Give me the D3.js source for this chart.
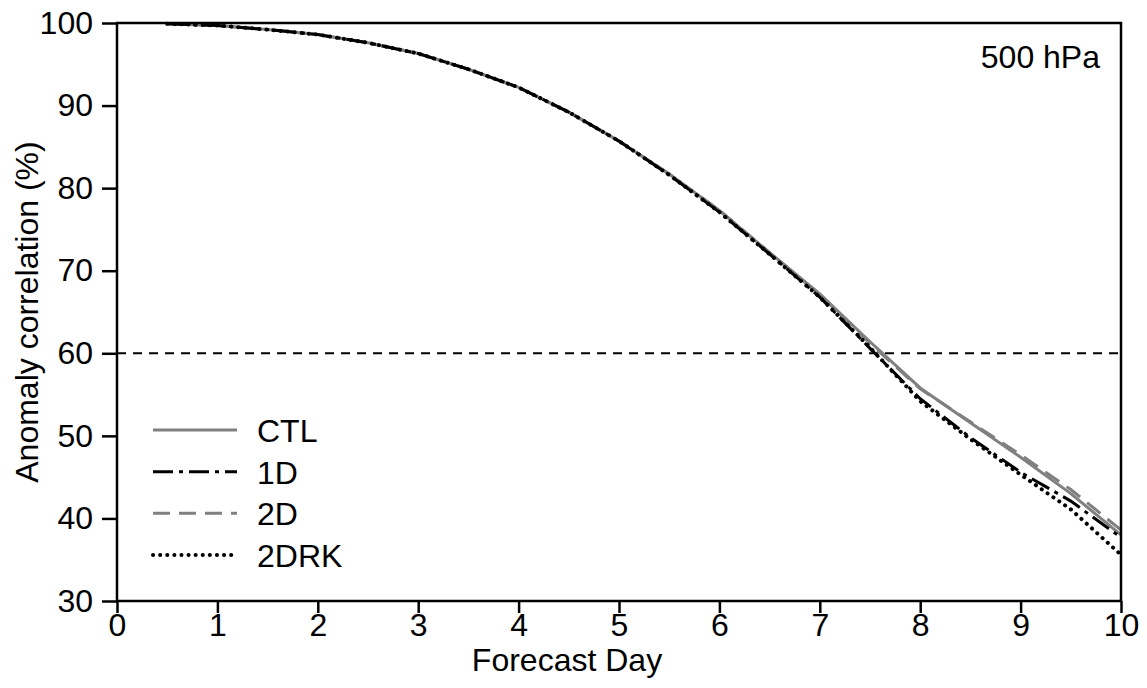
<!DOCTYPE html>
<html><head><meta charset="utf-8">
<script src="https://cdn.jsdelivr.net/npm/d3@7"></script>
<style>body{margin:0;background:#fff}svg text{font-family:"Liberation Sans",Arial,sans-serif;fill:#000}</style>
</head><body><svg id="c" width="1147" height="688"></svg>
<script>
const days = [0.5,1,1.5,2,2.5,3,3.5,4,4.5,5,5.5,6,6.5,7,7.5,8,8.5,9,9.5,10];
const ctl   = [99.9,99.7,99.2,98.6,97.6,96.3,94.4,92.2,89.2,85.7,81.7,77.3,72.2,67.2,61.4,55.8,51.6,47.4,43.0,38.0];
const d1    = [99.9,99.7,99.2,98.6,97.6,96.3,94.4,92.2,89.2,85.7,81.6,77.1,72.0,66.8,60.6,54.5,49.8,45.6,42.1,37.7];
const d2    = [99.9,99.7,99.2,98.6,97.6,96.3,94.4,92.2,89.2,85.7,81.7,77.3,72.2,67.1,61.2,55.7,51.7,47.7,43.5,38.6];
const d2rk  = [99.9,99.7,99.2,98.6,97.6,96.3,94.4,92.2,89.2,85.7,81.6,77.1,72.0,66.8,60.7,54.2,49.6,45.3,41.1,35.6];
const seriesNames = ["CTL","1D","2D","2DRK"];
const xTicks = [0,1,2,3,4,5,6,7,8,9,10];
const yTicks = [30,40,50,60,70,80,90,100];
const refLine = 60;

const styles = {
  "CTL":  {color:"#808080", dash:null, cap:"butt", w:3},
  "1D":   {color:"#000", dash:"20,6,4,6", cap:"butt", w:3},
  "2D":   {color:"#808080", dash:"17,9", cap:"butt", w:3},
  "2DRK": {color:"#000", dash:"0.1,7", cap:"round", w:4}
};
const data = {"CTL":ctl,"1D":d1,"2D":d2,"2DRK":d2rk};

const svg = d3.select("#c");
const L=117, R=1121, T=23, B=601;
const x = d3.scaleLinear().domain([0,10]).range([L,R]);
const y = d3.scaleLinear().domain([30,100]).range([B,T]);

svg.append("line").attr("x1",L).attr("x2",R).attr("y1",y(refLine)).attr("y2",y(refLine))
  .attr("stroke","#000").attr("stroke-width",2).attr("stroke-dasharray","9,7");

const line = d3.line().x((d,i)=>x(days[i])).y(d=>y(d));
["CTL","2D","1D","2DRK"].forEach(n=>{
  const s=styles[n];
  svg.append("path").datum(data[n]).attr("d",line).attr("fill","none")
    .attr("stroke",s.color).attr("stroke-width",s.w).attr("stroke-linecap",s.cap)
    .attr("stroke-dasharray",s.dash);
});

const fs = 32;
const xa = svg.append("g").attr("transform",`translate(0,${B})`)
  .call(d3.axisBottom(x).tickValues(xTicks).tickFormat(d3.format("d")).tickSize(12).tickPadding(0));
const ya = svg.append("g").attr("transform",`translate(${L},0)`)
  .call(d3.axisLeft(y).tickValues(yTicks).tickFormat(d3.format("d")).tickSize(15).tickPadding(9));
[xa,ya].forEach(g=>{
  g.select(".domain").remove();
  g.selectAll(".tick line").attr("stroke","#000").attr("stroke-width",2.5);
  g.selectAll(".tick text").attr("font-size",fs).style("font-family","Liberation Sans, Arial, sans-serif").attr("fill","#000");
});

svg.append("rect").attr("x",L).attr("y",T).attr("width",R-L).attr("height",B-T)
  .attr("fill","none").attr("stroke","#000").attr("stroke-width",2.5);

svg.append("text").attr("x",567).attr("y",671).attr("text-anchor","middle")
  .attr("font-size",fs).text("Forecast Day");
svg.append("text").attr("transform",`translate(38,${(T+B)/2}) rotate(-90)`).attr("text-anchor","middle")
  .attr("font-size",fs).text("Anomaly correlation (%)");
svg.append("text").attr("x",1100).attr("y",68).attr("text-anchor","end")
  .attr("font-size",fs).text("500 hPa");

const legY = d3.scalePoint().domain(seriesNames).range([430,555]);
seriesNames.forEach(n=>{
  const s=styles[n];
  svg.append("line").attr("x1",153).attr("x2",237).attr("y1",legY(n)).attr("y2",legY(n))
    .attr("stroke",s.color).attr("stroke-width",s.w).attr("stroke-linecap",s.cap).attr("stroke-dasharray",s.dash);
  svg.append("text").attr("x",257).attr("y",legY(n)+12).attr("font-size",fs).text(n);
});
</script></body></html>
